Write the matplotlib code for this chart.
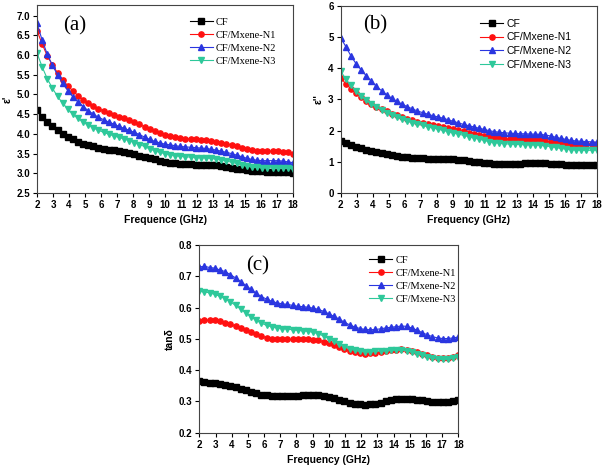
import numpy as np
import matplotlib
matplotlib.use("Agg")
import matplotlib.pyplot as plt

plt.rcParams["font.family"] = ["Liberation Sans", "DejaVu Sans"]

freq = [2.00, 2.32, 2.64, 2.96, 3.28, 3.60, 3.92, 4.24, 4.56, 4.88, 5.20, 5.52, 5.84,
        6.16, 6.48, 6.80, 7.12, 7.44, 7.76, 8.08, 8.40, 8.72, 9.04, 9.36, 9.68, 10.00,
        10.32, 10.64, 10.96, 11.28, 11.60, 11.92, 12.24, 12.56, 12.88, 13.20, 13.52,
        13.84, 14.16, 14.48, 14.80, 15.12, 15.44, 15.76, 16.08, 16.40, 16.72, 17.04,
        17.36, 17.68, 18.00]
labels = ["CF", "CF/Mxene-N1", "CF/Mxene-N2", "CF/Mxene-N3"]

# (a) real permittivity
eps_r_cf = [4.60, 4.44, 4.30, 4.19, 4.09, 4.00, 3.93, 3.86, 3.80, 3.75, 3.71, 3.68, 3.65,
            3.62, 3.60, 3.58, 3.56, 3.53, 3.51, 3.48, 3.45, 3.41, 3.38, 3.35, 3.31, 3.29,
            3.27, 3.25, 3.24, 3.23, 3.23, 3.22, 3.22, 3.21, 3.21, 3.20, 3.18, 3.16, 3.14,
            3.12, 3.10, 3.08, 3.07, 3.06, 3.05, 3.04, 3.03, 3.03, 3.02, 3.02, 3.00]
eps_r_n1 = [6.62, 6.28, 5.98, 5.75, 5.55, 5.37, 5.22, 5.09, 4.97, 4.87, 4.78, 4.71, 4.64,
            4.58, 4.53, 4.48, 4.43, 4.39, 4.34, 4.29, 4.24, 4.18, 4.12, 4.07, 4.02, 3.98,
            3.95, 3.92, 3.90, 3.88, 3.87, 3.86, 3.85, 3.84, 3.82, 3.80, 3.78, 3.75, 3.72,
            3.68, 3.65, 3.62, 3.59, 3.57, 3.56, 3.56, 3.56, 3.56, 3.55, 3.53, 3.50]
eps_r_n2 = [6.80, 6.38, 6.02, 5.74, 5.50, 5.28, 5.10, 4.94, 4.81, 4.69, 4.59, 4.50, 4.42,
            4.36, 4.30, 4.25, 4.19, 4.14, 4.09, 4.04, 3.98, 3.92, 3.86, 3.81, 3.77, 3.74,
            3.72, 3.70, 3.68, 3.67, 3.66, 3.65, 3.64, 3.63, 3.61, 3.59, 3.56, 3.53, 3.50,
            3.46, 3.42, 3.38, 3.35, 3.33, 3.32, 3.32, 3.32, 3.32, 3.31, 3.29, 3.27]
eps_r_n3 = [6.05, 5.70, 5.40, 5.16, 4.95, 4.78, 4.63, 4.50, 4.39, 4.30, 4.22, 4.15, 4.09,
            4.04, 3.99, 3.95, 3.91, 3.87, 3.83, 3.78, 3.73, 3.68, 3.62, 3.57, 3.53, 3.50,
            3.47, 3.45, 3.43, 3.42, 3.41, 3.40, 3.40, 3.39, 3.38, 3.36, 3.34, 3.31, 3.28,
            3.25, 3.21, 3.18, 3.16, 3.15, 3.14, 3.14, 3.14, 3.14, 3.14, 3.13, 3.11]

# (b) imaginary permittivity
eps_i_cf = [1.68, 1.60, 1.54, 1.48, 1.43, 1.39, 1.35, 1.31, 1.28, 1.25, 1.22, 1.19, 1.16,
            1.14, 1.13, 1.12, 1.11, 1.10, 1.10, 1.10, 1.10, 1.09, 1.08, 1.07, 1.05, 1.03,
            1.01, 0.99, 0.97, 0.95, 0.94, 0.93, 0.93, 0.93, 0.93, 0.94, 0.95, 0.96, 0.96,
            0.96, 0.95, 0.94, 0.93, 0.92, 0.91, 0.90, 0.89, 0.90, 0.90, 0.90, 0.91]
eps_i_n1 = [3.70, 3.50, 3.35, 3.20, 3.08, 2.96, 2.86, 2.77, 2.69, 2.62, 2.55, 2.49, 2.43,
            2.38, 2.33, 2.29, 2.25, 2.22, 2.19, 2.16, 2.13, 2.10, 2.06, 2.02, 1.98, 1.94,
            1.90, 1.86, 1.82, 1.79, 1.77, 1.75, 1.74, 1.73, 1.72, 1.72, 1.72, 1.71, 1.70,
            1.69, 1.67, 1.65, 1.63, 1.60, 1.58, 1.57, 1.56, 1.56, 1.56, 1.56, 1.56]
eps_i_n2 = [4.98, 4.70, 4.40, 4.15, 3.95, 3.76, 3.58, 3.42, 3.28, 3.15, 3.04, 2.94, 2.85,
            2.77, 2.70, 2.63, 2.58, 2.53, 2.48, 2.44, 2.40, 2.35, 2.30, 2.25, 2.20, 2.16,
            2.12, 2.08, 2.04, 2.00, 1.97, 1.95, 1.93, 1.92, 1.91, 1.90, 1.90, 1.89, 1.89,
            1.88, 1.86, 1.83, 1.79, 1.75, 1.72, 1.69, 1.67, 1.66, 1.65, 1.64, 1.63]
eps_i_n3 = [3.92, 3.65, 3.45, 3.27, 3.12, 2.98, 2.86, 2.75, 2.66, 2.58, 2.50, 2.43, 2.37,
            2.31, 2.26, 2.21, 2.17, 2.13, 2.09, 2.05, 2.01, 1.97, 1.93, 1.89, 1.85, 1.81,
            1.77, 1.73, 1.69, 1.65, 1.62, 1.60, 1.58, 1.57, 1.56, 1.56, 1.55, 1.55, 1.54,
            1.53, 1.51, 1.49, 1.46, 1.43, 1.41, 1.39, 1.38, 1.37, 1.37, 1.37, 1.38]

# (c) dielectric loss tangent
tan_cf = [0.365, 0.362, 0.360, 0.358, 0.356, 0.353, 0.349, 0.345, 0.340, 0.335, 0.330,
          0.326, 0.322, 0.319, 0.317, 0.316, 0.316, 0.316, 0.317, 0.318, 0.319, 0.320,
          0.320, 0.319, 0.317, 0.314, 0.310, 0.305, 0.300, 0.296, 0.293, 0.291, 0.290,
          0.291, 0.293, 0.296, 0.300, 0.304, 0.307, 0.308, 0.308, 0.308, 0.306, 0.304,
          0.302, 0.299, 0.297, 0.297, 0.298, 0.300, 0.303]
tan_n1 = [0.558, 0.559, 0.560, 0.559, 0.556, 0.552, 0.547, 0.541, 0.535, 0.528, 0.521,
          0.514, 0.508, 0.504, 0.501, 0.499, 0.498, 0.498, 0.498, 0.498, 0.498, 0.498,
          0.497, 0.495, 0.491, 0.486, 0.480, 0.473, 0.466, 0.461, 0.457, 0.454, 0.453,
          0.454, 0.456, 0.459, 0.461, 0.463, 0.465, 0.466, 0.465, 0.462, 0.457, 0.452,
          0.447, 0.443, 0.440, 0.439, 0.440, 0.443, 0.448]
tan_n2 = [0.730, 0.732, 0.728, 0.726, 0.720, 0.715, 0.705, 0.695, 0.683, 0.670, 0.658,
          0.645, 0.635, 0.627, 0.620, 0.615, 0.612, 0.610, 0.607, 0.604, 0.603, 0.601,
          0.598, 0.594, 0.588, 0.580, 0.572, 0.563, 0.553, 0.545, 0.538, 0.533, 0.530,
          0.529, 0.530, 0.532, 0.535, 0.537, 0.539, 0.541, 0.540, 0.535, 0.528, 0.520,
          0.513, 0.507, 0.503, 0.501, 0.501, 0.503, 0.506]
tan_n3 = [0.652, 0.650, 0.647, 0.642, 0.636, 0.628, 0.618, 0.607, 0.595, 0.583, 0.570,
          0.559, 0.550, 0.543, 0.538, 0.535, 0.533, 0.531, 0.529, 0.527, 0.526, 0.524,
          0.521, 0.516, 0.509, 0.501, 0.492, 0.483, 0.475, 0.468, 0.463, 0.460, 0.459,
          0.459, 0.460, 0.461, 0.462, 0.463, 0.464, 0.464, 0.462, 0.458, 0.453, 0.448,
          0.443, 0.438, 0.435, 0.434, 0.435, 0.438, 0.443]

colors = ["black", "#ff1010", "#2a36e0", "#2ec89a"]
markers = ["s", "o", "^", "v"]


def panel(rect, series, ylim, yticks, ylabel, xlabel, tag, tagpos, legpos, legfont):
    ax = fig.add_axes(rect)
    for ys, c, m, lab in zip(series, colors, markers, labels):
        ax.plot(freq, ys, "-", color=c, marker=m, ms=3.8, lw=0.8, label=lab)
    ax.set_xlim(2, 18)
    ax.set_ylim(*ylim)
    ax.set_xticks(range(2, 19))
    ax.set_yticks(yticks)
    ax.set_yticklabels([f"{t:g}" if isinstance(t, int) else f"{t:.1f}" for t in yticks])
    for lab in ax.get_xticklabels() + ax.get_yticklabels():
        lab.set_fontweight("bold")
    ax.tick_params(labelsize=7, length=3, width=0.8, pad=2)
    for s in ax.spines.values():
        s.set_color("#444444")
    ax.set_xlabel(xlabel, fontsize=7.5, fontweight="bold", labelpad=4)
    ax.set_ylabel(ylabel, fontsize=7.5, fontweight="bold", labelpad=3)
    ax.text(*tagpos, tag, transform=ax.transAxes, fontsize=15,
            family="Liberation Serif", ha="center", va="center")
    ax.legend(loc="upper left", bbox_to_anchor=legpos, frameon=False,
              prop={"family": legfont, "size": 7.5}, handlelength=2.2,
              handletextpad=0.3, labelspacing=0.35, borderaxespad=0)
    return ax


fig = plt.figure(figsize=(6.04, 4.69), dpi=100)

panel([0.0613, 0.5885, 0.4238, 0.4009],
      [eps_r_cf, eps_r_n1, eps_r_n2, eps_r_n3], (2.5, 7.27),
      [2.5, 3.0, 3.5, 4.0, 4.5, 5.0, 5.5, 6.0, 6.5, 7.0],
      "ε'", "Frequence (GHz)", "(a)", (0.148, 0.89), (0.58, 0.955), "Liberation Serif")

panel([0.564, 0.5885, 0.4238, 0.3987],
      [eps_i_cf, eps_i_n1, eps_i_n2, eps_i_n3], (0, 6),
      [0, 1, 2, 3, 4, 5, 6],
      "ε''", "Frequency (GHz)", "(b)", (0.134, 0.898), (0.53, 0.955), "Liberation Sans")

panel([0.33, 0.0774, 0.4288, 0.4002],
      [tan_cf, tan_n1, tan_n2, tan_n3], (0.2, 0.8),
      [0.2, 0.3, 0.4, 0.5, 0.6, 0.7, 0.8],
      "tanδ", "Frequency (GHz)", "(c)", (0.227, 0.888), (0.64, 0.965), "Liberation Serif")

fig.savefig("out.png", dpi=100)
print("wrote out.png")
